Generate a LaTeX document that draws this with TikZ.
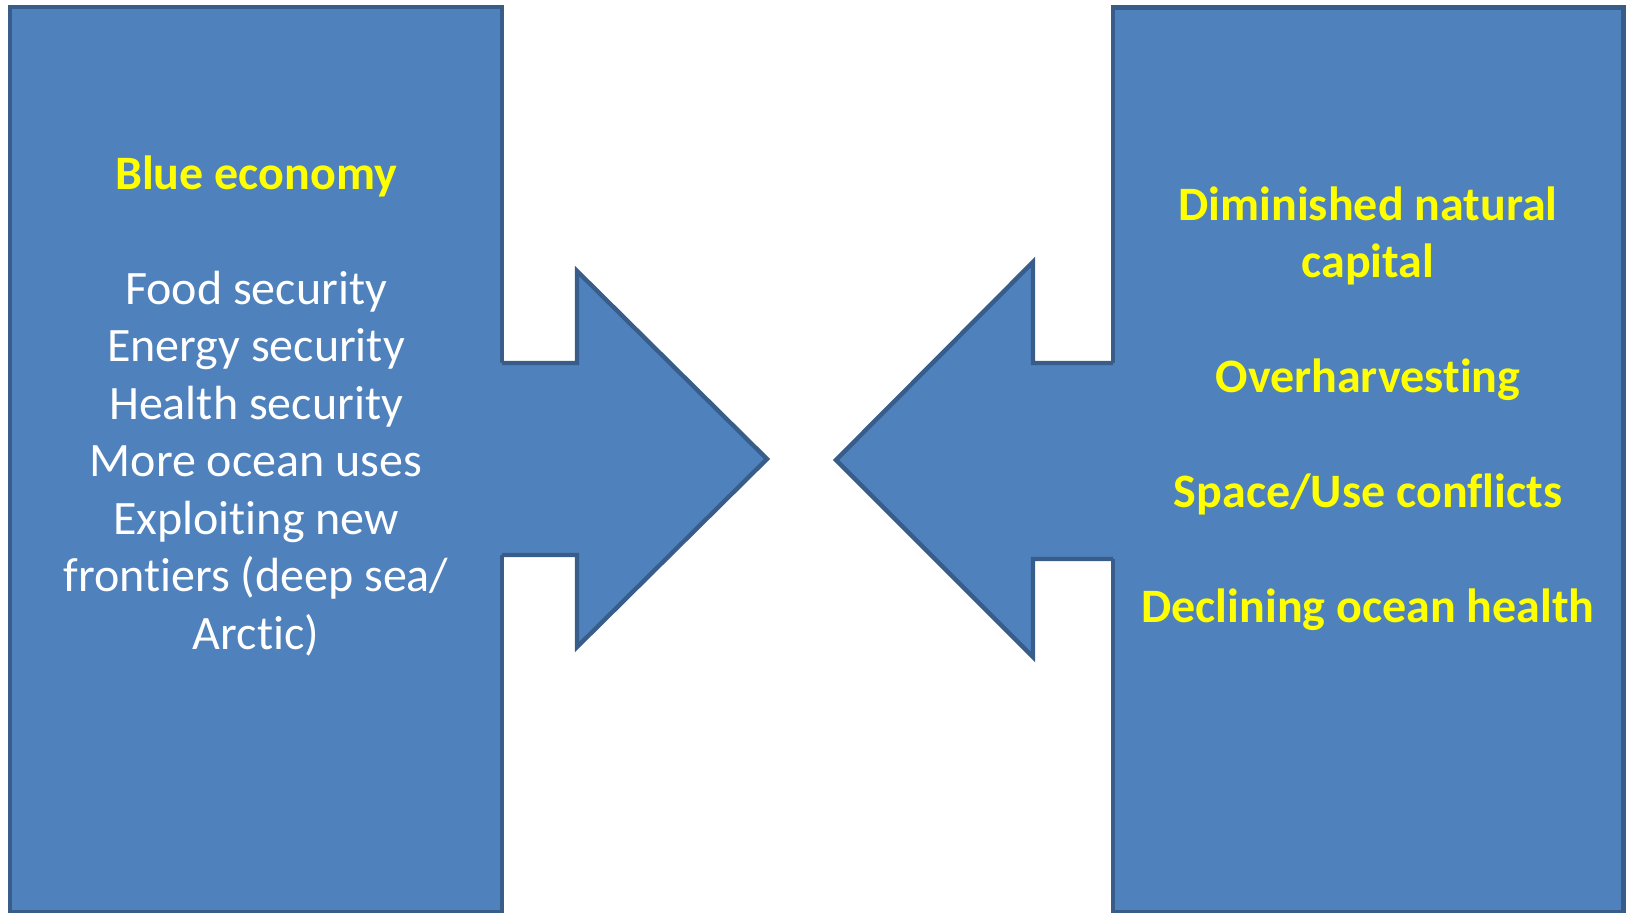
\documentclass[tikz,border=0pt]{standalone}
\usepackage{fontspec}
\setmainfont{Carlito}[Ligatures={NoCommon,NoRare,NoContextual}]
\definecolor{boxfill}{HTML}{4F81BD}
\definecolor{boxline}{HTML}{385D8A}
\definecolor{hl}{HTML}{FFFF00}
\begin{document}
\begin{tikzpicture}[x=0.5pt,y=-0.5pt,
  blueshape/.style={fill=boxfill,draw=boxline,line width=2.2pt,line join=miter},
  outline/.style={draw=boxline,line width=2.2pt,line join=miter},
  head/.style={anchor=base,inner sep=0pt,text=hl,font=\fontsize{24}{29}\selectfont\bfseries},
  item/.style={anchor=base,inner sep=0pt,text=white,font=\fontsize{24}{29}\selectfont}]
\useasboundingbox (0,0) rectangle (1630,913);
% left box and right-pointing arrow
\draw[blueshape] (10,7) rectangle (502,912);
\fill[boxfill] (495,363) -- (577,363) -- (577,271) -- (767,459) -- (577,647) -- (577,555) -- (495,555) -- cycle;
\draw[outline] (502,363) -- (577,363) -- (577,271) -- (767,459) -- (577,647) -- (577,555) -- (502,555);
% right box and left-pointing arrow
\draw[blueshape] (1113,7.5) rectangle (1623.5,912);
\fill[boxfill] (1120,363) -- (1033,363) -- (1033,262) -- (836,460) -- (1033,657) -- (1033,559) -- (1120,559) -- cycle;
\draw[outline] (1113,363) -- (1033,363) -- (1033,262) -- (836,460) -- (1033,657) -- (1033,559) -- (1113,559);
% left texts
\node[head] (be) at (256,189.5) {Blue economy};
\node[item] (l1) at (256,304.2) {Food security};
\node[item] (l2) at (256,361.7) {Energy security};
\node[item] (l3) at (256,419.2) {Health security};
\node[item] (l4) at (256,476.7) {More ocean uses};
\node[item] (l5) at (256,534.2) {Exploiting new};
\node[item] (l6) at (256,591.7) {frontiers (deep sea/};
\node[item] (l7) at (256,649.2) {Arctic)};
% right texts
\node[head] (r1) at (1368,220.5) {Diminished natural};
\node[head] (r2) at (1368,278) {capital};
\node[head] (r3) at (1368,393) {Overharvesting};
\node[head] (r4) at (1368,508) {Space/Use conflicts};
\node[head] (r5) at (1368,623) {Declining ocean health};
\end{tikzpicture}
\end{document}
